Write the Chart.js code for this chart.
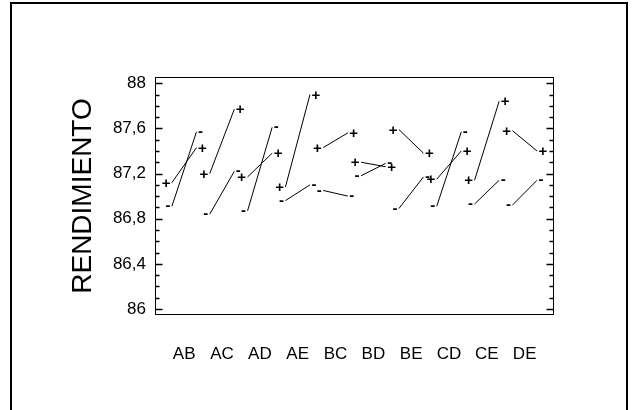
<!DOCTYPE html>
<html>
<head>
<meta charset="utf-8">
<script src="https://cdn.jsdelivr.net/npm/chart.js@4.4.0/dist/chart.umd.min.js"></script>
<style>
  html, body { margin: 0; padding: 0; background: #fff; overflow: hidden; }
</style>
</head>
<body>
<canvas id="chart" width="635" height="410"></canvas>
<script>
// interaction pairs, left end = first factor low, right end = first factor high
const categories = ["AB", "AC", "AD", "AE", "BC", "BD", "BE", "CD", "CE", "DE"];
const plusLow   = [87.12, 87.20, 87.17, 87.08, 87.43, 87.30, 87.59, 87.15, 87.14, 87.58];
const plusHigh  = [87.43, 87.77, 87.38, 87.90, 87.56, 87.26, 87.38, 87.40, 87.84, 87.40];
const minusLow  = [86.91, 86.84, 86.87, 86.96, 87.05, 87.18, 86.89, 86.91, 86.93, 86.92];
const minusHigh = [87.57, 87.22, 87.61, 87.10, 87.00, 87.29, 87.17, 87.57, 87.14, 87.14];
const yTicks = [86, 86.1, 86.2, 86.3, 86.4, 86.5, 86.6, 86.7, 86.8, 86.9, 87,
                87.1, 87.2, 87.3, 87.4, 87.5, 87.6, 87.7, 87.8, 87.9, 88];

const FONT = "'Liberation Sans', Arial, sans-serif";
const GLYPH_SIZE = 15;
const HALF = 0.325;

const datasets = [];
categories.forEach((cat, i) => {
  const c = i + 1;
  datasets.push({
    label: cat + " +", glyph: "+",
    data: [{ x: c - HALF, y: plusLow[i] }, { x: c + HALF, y: plusHigh[i] }]
  });
  datasets.push({
    label: cat + " -", glyph: "-",
    data: [{ x: c - HALF, y: minusLow[i] }, { x: c + HALF, y: minusHigh[i] }]
  });
});
datasets.forEach(d => {
  d.showLine = true;
  d.borderColor = "#000";
  d.borderWidth = 1;
  d.pointRadius = 0;
  d.fill = false;
});

const isMajor = v => Math.round(v * 10) % 4 === 0;

const framePlugin = {
  id: "frame",
  beforeDraw(chart) {
    const ctx = chart.ctx;
    ctx.save();
    ctx.strokeStyle = "#000";
    ctx.lineWidth = 2;
    ctx.strokeRect(11, 3, 616, 600);
    ctx.restore();
  },
  afterDatasetsDraw(chart) {
    const ctx = chart.ctx;
    ctx.save();
    ctx.fillStyle = "#000";
    ctx.font = "bold " + GLYPH_SIZE + "px " + FONT;
    ctx.textBaseline = "alphabetic";
    chart.data.datasets.forEach((ds, i) => {
      const pts = chart.getDatasetMeta(i).data;
      const off = (ds.glyph === "+" ? 0.34 : 0.27) * GLYPH_SIZE;
      ctx.textAlign = "right";
      ctx.fillText(ds.glyph, pts[0].x - 1.5, pts[0].y + off);
      ctx.textAlign = "left";
      ctx.fillText(ds.glyph, pts[1].x + 1.5, pts[1].y + off);
    });
    ctx.restore();
  },
  afterDraw(chart) {
    const { ctx, chartArea: a, scales: { y } } = chart;
    ctx.save();
    ctx.strokeStyle = "#000";
    ctx.lineWidth = 1;
    const l = Math.round(a.left) + 0.5, r = Math.round(a.right) - 0.5;
    ctx.strokeRect(l, Math.round(a.top) + 0.5, r - l, Math.round(a.bottom) - Math.round(a.top) - 1);
    ctx.lineWidth = 1.5;
    yTicks.forEach(v => {
      const py = Math.round(y.getPixelForValue(v)) + 0.5;
      const len = isMajor(v) ? 7 : 4;
      ctx.beginPath();
      ctx.moveTo(l, py); ctx.lineTo(l + len, py);
      ctx.moveTo(r, py); ctx.lineTo(r - len, py);
      ctx.stroke();
    });
    ctx.restore();
  }
};

new Chart(document.getElementById("chart"), {
  type: "scatter",
  data: { datasets },
  options: {
    responsive: false,
    devicePixelRatio: 1,
    animation: false,
    layout: { padding: { top: 77, right: 81, bottom: 0, left: 0 } },
    plugins: { legend: { display: false }, tooltip: { enabled: false } },
    scales: {
      x: {
        type: "linear",
        min: 0.228,
        max: 10.775,
        afterBuildTicks: s => { s.ticks = categories.map((_, i) => ({ value: i + 1 })); },
        afterFit: s => { s.height = 95; },
        grid: { display: false, drawTicks: false },
        border: { display: false },
        ticks: {
          autoSkip: false,
          maxRotation: 0,
          padding: 29,
          color: "#000",
          font: { family: FONT, size: 17 },
          callback: v => categories[Math.round(v) - 1] || ""
        }
      },
      y: {
        min: 85.947,
        max: 88.055,
        afterBuildTicks: s => { s.ticks = yTicks.map(v => ({ value: v })); },
        afterFit: s => { s.width = 155; },
        grid: { display: false, drawTicks: false },
        border: { display: false },
        ticks: {
          autoSkip: false,
          padding: 9,
          color: "#000",
          font: { family: FONT, size: 17 },
          callback: v => isMajor(v) ? String(Math.round(v * 10) / 10).replace(".", ",") : ""
        },
        title: {
          display: true,
          text: "RENDIMIENTO",
          color: "#000",
          font: { family: FONT, size: 28, lineHeight: 1 },
          padding: { top: 69, bottom: 0 }
        }
      }
    }
  },
  plugins: [framePlugin]
});
</script>
</body>
</html>
